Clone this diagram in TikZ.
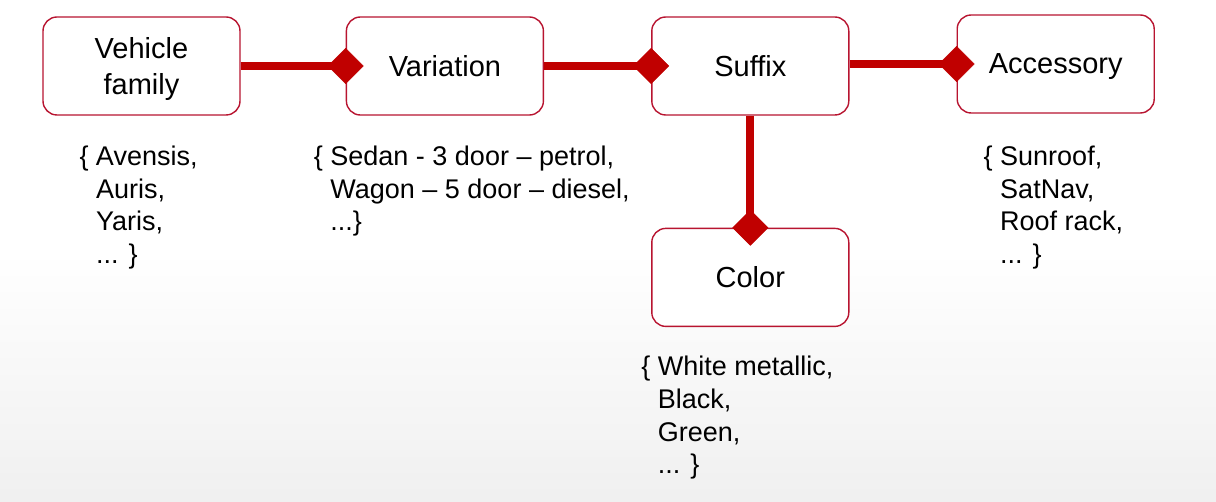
\documentclass[tikz,border=0pt]{standalone}
\usepackage{fontspec}
\setmainfont{Liberation Sans}
\usepackage{tikz}
\usetikzlibrary{positioning,arrows.meta,shapes}

\definecolor{linkred}{RGB}{192,0,0}
\definecolor{boxred}{RGB}{184,20,48}

\tikzset{
  entity/.style={rectangle, rounded corners=14pt, draw=boxred, line width=1.4pt, fill=white,
    minimum width=197pt, minimum height=98pt, align=center, text depth=0pt,
    font=\fontsize{29}{36}\selectfont},
  values/.style={inner sep=0pt, align=left, font=\fontsize{27}{32.7}\selectfont},
  link/.style={draw=linkred, line width=8pt, shorten >=-18pt,
    -{Diamond[length=36pt,width=36pt,line width=0.5pt,fill=linkred]}},
}
\newcommand{\gap}{\phantom{\{ }}

\begin{document}
\begin{tikzpicture}[x=1pt, y=1pt, node distance=107pt]
      % background
      \shade[top color=white, bottom color=black!6, middle color=white] (0,0) rectangle (1216,-502);
      \useasboundingbox (0,0) rectangle (1216,-502);

      \node (vehicle) [entity] at (141.5,-66) {Vehicle\\family};
      \node (variation) [entity, right=105pt of vehicle] {Variation};
      \node (suffix) [entity, right=of variation] {Suffix};
      \node (accessory) [entity, right=of suffix, yshift=2pt] {Accessory};
      \node (color) [entity, below=112pt of suffix] {Color};

      \node (families) [values, below right=30pt and 37pt of vehicle.south west]
        {\{ Avensis,\\\gap Auris,\\\gap Yaris,\\\gap ... \}};
      \node (variants) [values, below right=30pt and -32pt of variation.south west]
        {\{ Sedan - 3 door -- petrol,\\\gap Wagon -- 5 door -- diesel,\\\gap ...\}};
      \node (colors) [values, below right=29pt and -10pt of color.south west]
        {\{ White metallic,\\\gap Black,\\\gap Green,\\\gap ... \}};
      \node (extras) [values, below right=32pt and 27pt of accessory.south west]
        {\{ Sunroof,\\\gap SatNav,\\\gap Roof rack,\\\gap ... \}};

      \draw[link] (vehicle) -- (variation);
      \draw[link] (variation) -- (suffix);
      \draw[link] (suffix.east |- accessory) -- (accessory);
      \draw[link] (suffix) -- (color);
  \end{tikzpicture}
\end{document}
